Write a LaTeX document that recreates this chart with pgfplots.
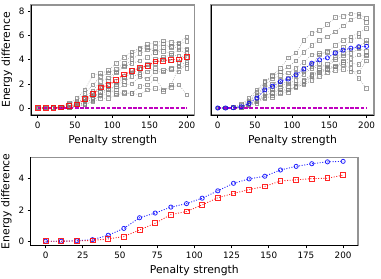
\documentclass[border=0pt]{standalone}
\usepackage{pgfplots}
\usepackage{pgfplotstable}
\usepackage{fontspec}
\setmainfont{DejaVu Sans}
\pgfplotsset{compat=1.18}

\pgfplotstableread{
x        A    B    C    D    E    F    G    H    I    J    M
0        0    0    0    0    0    0    0    0    0    0    0
10.526   0    0    0    0    0    0    0    0    0    0    0
21.053   0    0    0.05 0    0    0    0    0    0    0    0.02
31.579   0.1  0.05 0.1  0.05 0    0    0    0    0    0    0.05
42.105   0.4  0.3  0.2  0.1  0.1  0.05 0    0.05 0.1  0.05 0.15
52.632   0.8  0.6  0.4  0.3  0.2  0.15 0.1  0.2  0.2  0.1  0.3
63.158   1.5  1.2  0.9  0.7  0.5  0.4  0.3  0.5  0.6  0.3  0.72
73.684   2.7  1.9  1.4  1.2  1.0  0.8  0.6  0.7  0.9  0.5  1.15
84.211   2.85 2.6  2.2  1.8  1.6  1.3  1.1  1.0  1.3  0.8  1.7
94.737   3.1  2.9  2.5  2.2  1.9  1.5  1.5  1.2  1.6  0.8  1.9
105.263  3.7  3.2  3.0  2.9  2.2  1.9  1.8  1.5  1.2  1.1  2.32
115.789  4.2  3.7  3.5  3.4  2.6  2.5  2.2  1.9  1.3  1.2  2.78
126.316  4.65 4.4  4.0  3.7  3.1  2.9  2.6  2.0  1.2  1.2  3.05
136.842  4.95 4.9  4.5  3.9  3.3  3.2  2.8  2.6  1.8  1.1  3.3
147.368  5.25 5.0  4.8  4.2  3.6  3.4  3.0  2.4  1.9  1.5  3.5
157.895  5.4  4.6  5.0  4.6  4.0  3.7  3.3  3.0  2.4  1.6  3.85
168.421  5.55 5.0  5.3  4.7  4.2  4.0  3.1  3.0  1.5  1.4  3.92
178.947  5.45 5.1  5.0  4.5  4.4  3.9  3.3  3.2  1.7  1.9  4.0
189.474  5.4  5.3  5.0  4.8  4.3  3.8  3.5  3.0  1.9  3.4  4.02
200      5.9  5.5  4.9  4.5  4.2  3.6  3.3  3.8  1.1  4.8  4.22
}\leftdata

\pgfplotstableread{
x        A    B    C    D    E    F    G    H    I    J    M
0        0    0    0    0    0    0    0    0    0    0    0
10.526   0    0    0    0    0    0    0    0    0    0    0
21.053   0.05 0.05 0    0.05 0    0    0    0    0    0    0.03
31.579   0.3  0.2  0.1  0.1  0.05 0.05 0    0.05 0.05 0    0.1
42.105   0.8  0.6  0.5  0.4  0.3  0.3  0.2  0.3  0.2  0.2  0.38
52.632   1.5  1.3  1.1  1.0  0.8  0.6  0.5  0.6  0.4  0.5  0.82
63.158   2.2  2.1  1.9  1.7  1.5  1.2  1.0  1.0  0.8  0.9  1.5
73.684   2.7  2.6  2.4  2.0  1.6  1.5  1.3  1.2  1.0  0.9  1.8
84.211   3.3  3.0  2.7  2.3  2.0  1.9  1.6  1.5  1.3  1.2  2.18
94.737   4.15 3.4  2.9  2.5  2.2  2.0  1.8  1.5  1.5  1.3  2.4
105.263  4.55 3.9  3.3  2.9  2.7  2.3  2.0  1.7  1.8  1.8  2.75
115.789  5.6  4.6  3.8  3.3  3.0  2.8  2.3  2.0  2.2  1.9  3.22
126.316  6.2  5.2  4.4  3.6  3.4  3.3  2.8  2.6  2.7  2.3  3.7
136.842  6.4  5.6  4.5  4.4  3.3  3.7  3.1  2.9  3.0  2.6  3.98
147.368  6.9  5.9  4.6  4.7  3.6  3.4  3.3  3.2  3.2  2.9  4.15
157.895  7.5  6.3  5.2  4.6  4.2  4.0  3.5  3.4  3.4  3.1  4.55
168.421  7.6  6.8  5.6  5.0  4.5  4.3  3.9  3.8  3.6  3.2  4.78
178.947  7.8  7.3  5.9  5.6  4.8  4.5  4.1  3.7  3.3  3.0  4.95
189.474  7.8  7.6  6.2  5.9  5.0  4.9  4.4  3.6  2.45 3.0  5.07
200      7.4  7.1  6.6  5.4  5.6  4.7  4.3  4.4  1.6  3.9  5.1
}\rightdata

\definecolor{mplred}{rgb}{1,0,0}
\definecolor{mplblue}{rgb}{0,0,1}
\definecolor{mplmag}{rgb}{0.75,0,0.75}

\pgfplotsset{
  panel/.style={
    scale only axis,
    clip mode=individual,
    tick align=outside,
    tick pos=left,
    major tick length=3pt,
    tick style={black, line width=0.6pt},
    axis line style={draw=gray!85, line width=1.1pt},
    ticklabel style={font=\fontsize{8.8}{10}\selectfont},
    label style={font=\fontsize{10.8}{12}\selectfont},
    /pgf/number format/assume math mode=true,
    xlabel={Penalty strength},
    after end axis/.code={\draw[black, line width=0.7pt] (rel axis cs:0,1) -- (rel axis cs:0,0) -- (rel axis cs:1,0);},
  },
  grayrun/.style={draw=gray, draw opacity=0.7, dash pattern=on 0.8pt off 1.4pt, line width=0.6pt,
    mark=square, mark size=1.8pt, mark options={solid, draw=gray, draw opacity=0.75, line width=0.7pt}},
  redrun/.style={draw=mplred, draw opacity=0.85, dash pattern=on 1pt off 1.6pt, line width=0.9pt,
    mark=square, mark size=2.4pt, mark options={solid, draw=mplred, line width=0.8pt}},
  bluerun/.style={draw=mplblue, draw opacity=0.85, dash pattern=on 1pt off 1.6pt, line width=0.9pt,
    mark=o, mark size=2.1pt, mark options={solid, draw=mplblue, line width=0.8pt}},
  zeroline/.style={draw=mplmag, line width=1.1pt, dash pattern=on 3.7pt off 1.6pt},
}

\begin{document}
\begin{tikzpicture}
\useasboundingbox (0,0) rectangle (381pt,279pt);

% top left
\begin{axis}[panel, at={(31pt,164pt)}, anchor=south west, width=163.3pt, height=110pt,
  xmin=-9, xmax=210, ymin=-0.58, ymax=8.52,
  xtick={0,50,100,150,200}, ytick={0,2,4,6,8},
  ylabel={Energy difference}]
\pgfplotsinvokeforeach{A,B,C,D,E,F,G,H,I,J}{\addplot[grayrun] table[x=x,y=#1]{\leftdata};}
\addplot[zeroline] coordinates {(0,0) (200,0)};
\addplot[redrun] table[x=x,y=M]{\leftdata};
\end{axis}

% top right
\begin{axis}[panel, at={(211pt,164pt)}, anchor=south west, width=163pt, height=110pt,
  xmin=-9, xmax=210, ymin=-0.58, ymax=8.52,
  xtick={0,50,100,150,200}, ymajorticks=false]
\pgfplotsinvokeforeach{A,B,C,D,E,F,G,H,I,J}{\addplot[grayrun] table[x=x,y=#1]{\rightdata};}
\addplot[zeroline] coordinates {(0,0) (200,0)};
\addplot[bluerun] table[x=x,y=M]{\rightdata};
\end{axis}

% bottom
\begin{axis}[panel, at={(30.7pt,33.7pt)}, anchor=south west, width=327.3pt, height=88pt,
  xmin=-10, xmax=210, ymin=-0.26, ymax=5.36,
  xtick={0,25,50,75,100,125,150,175,200}, ytick={0,2,4},
  ylabel={Energy difference}]
\addplot[bluerun] table[x=x,y=M]{\rightdata};
\addplot[redrun] table[x=x,y=M]{\leftdata};
\end{axis}
\end{tikzpicture}
\end{document}
